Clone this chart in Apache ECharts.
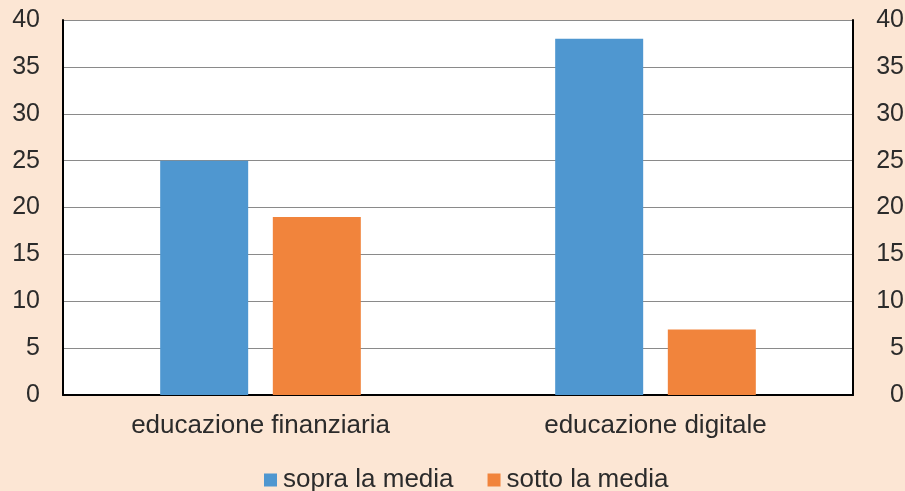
<!DOCTYPE html>
<html>
<head>
<meta charset="utf-8">
<script src="https://cdn.jsdelivr.net/npm/echarts@6/dist/echarts.min.js"></script>
<style>
html,body{margin:0;padding:0;background:#FCE6D4;}
#chart{width:905px;height:491px;}
</style>
</head>
<body>
<div id="chart"></div>
<script>
const categories = ['educazione finanziaria', 'educazione digitale'];
const sopraMedia = [25, 38];
const sottoMedia = [19, 7];
const seriesNames = ['sopra la media', 'sotto la media'];

const chart = echarts.init(document.getElementById('chart'), null, {renderer: 'canvas'});
const font = '"Liberation Sans", Arial, Helvetica, sans-serif';
const textColor = '#2b2b2b';
const yAxisBase = {
  type: 'value', min: 0, max: 40, interval: 5,
  axisTick: {show: false},
  axisLine: {show: true, lineStyle: {color: '#000', width: 2}},
  axisLabel: {color: textColor, fontSize: 25, fontFamily: font}
};
chart.setOption({
  backgroundColor: '#FCE6D4',
  animation: false,
  grid: {left: 63, right: 52, top: 20, bottom: 96, show: true, backgroundColor: '#fff', borderWidth: 0,
         containLabel: false, outerBoundsMode: 'none'},
  legend: {
    data: seriesNames,
    left: 259, top: 462,
    icon: 'rect', itemWidth: 13, itemHeight: 13, itemGap: 34,
    textStyle: {color: textColor, fontSize: 26, fontFamily: font, padding: [0, 0, 0, 1]}
  },
  xAxis: {
    type: 'category', data: categories,
    axisTick: {show: false},
    axisLine: {show: true, lineStyle: {color: '#000', width: 2}},
    axisLabel: {color: textColor, fontSize: 26, fontFamily: font, margin: 18}
  },
  yAxis: [
    Object.assign({}, yAxisBase, {
      position: 'left',
      splitLine: {show: true, lineStyle: {color: '#8a8a8a', width: 1}},
      axisLabel: Object.assign({}, yAxisBase.axisLabel, {margin: 23})
    }),
    Object.assign({}, yAxisBase, {
      position: 'right',
      splitLine: {show: false},
      axisLabel: Object.assign({}, yAxisBase.axisLabel, {margin: 51, align: 'right'})
    })
  ],
  series: [
    {name: seriesNames[0], type: 'bar', data: sopraMedia, barWidth: 88, barGap: '28%', itemStyle: {color: '#4F97D0'}},
    {name: seriesNames[1], type: 'bar', data: sottoMedia, barWidth: 88, itemStyle: {color: '#F1843C'}}
  ]
});
</script>
</body>
</html>
